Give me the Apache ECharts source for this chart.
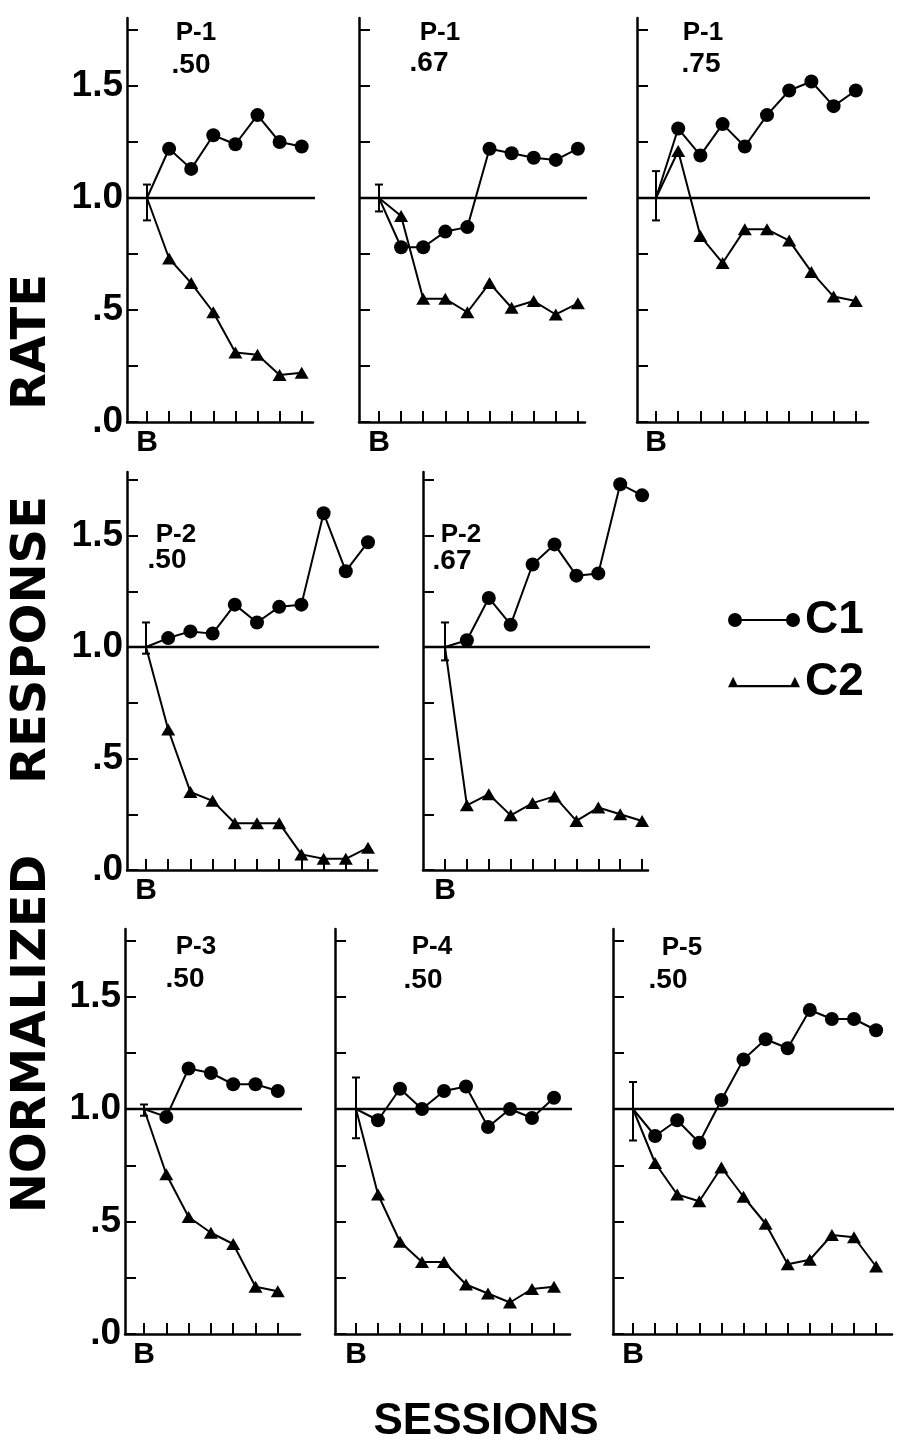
<!DOCTYPE html>
<html><head><meta charset="utf-8">
<script src="https://cdn.jsdelivr.net/npm/echarts@6/dist/echarts.min.js"></script>
<style>html,body{margin:0;padding:0;background:#fff}#c{width:906px;height:1451px}</style>
</head><body><div id="c"></div>
<script>
// ---------------- DATA ----------------
const seriesNames = ['C1', 'C2'];
const panelSubjects = ['P-1', 'P-1', 'P-1', 'P-2', 'P-2', 'P-3', 'P-4', 'P-5'];
const panelProbs = ['.50', '.67', '.75', '.50', '.67', '.50', '.50', '.50'];

const c1_p1_50 = [1.0, 1.22, 1.13, 1.28, 1.24, 1.37, 1.25, 1.23];
const c2_p1_50 = [1.0, 0.73, 0.62, 0.49, 0.31, 0.30, 0.21, 0.22];
const err_p1_50 = [0.90, 1.06];

const c1_p1_67 = [1.0, 0.78, 0.78, 0.85, 0.87, 1.22, 1.20, 1.18, 1.17, 1.22];
const c2_p1_67 = [1.0, 0.92, 0.55, 0.55, 0.49, 0.62, 0.51, 0.54, 0.48, 0.53];
const err_p1_67 = [0.94, 1.06];

const c1_p1_75 = [1.0, 1.31, 1.19, 1.33, 1.23, 1.37, 1.48, 1.52, 1.41, 1.48];
const c2_p1_75 = [1.0, 1.21, 0.83, 0.71, 0.86, 0.86, 0.81, 0.67, 0.56, 0.54];
const err_p1_75 = [0.90, 1.12];

const c1_p2_50 = [1.0, 1.04, 1.07, 1.06, 1.19, 1.11, 1.18, 1.19, 1.60, 1.34, 1.47];
const c2_p2_50 = [1.0, 0.63, 0.35, 0.31, 0.21, 0.21, 0.21, 0.07, 0.05, 0.05, 0.10];
const err_p2_50 = [0.97, 1.11];

const c1_p2_67 = [1.0, 1.03, 1.22, 1.10, 1.37, 1.46, 1.32, 1.33, 1.73, 1.68];
const c2_p2_67 = [1.0, 0.29, 0.34, 0.245, 0.30, 0.33, 0.22, 0.28, 0.25, 0.22];
const err_p2_67 = [0.94, 1.11];

const c1_p3_50 = [1.0, 0.965, 1.18, 1.16, 1.11, 1.11, 1.08];
const c2_p3_50 = [1.0, 0.71, 0.52, 0.45, 0.40, 0.21, 0.19];
const err_p3_50 = [0.97, 1.02];

const c1_p4_50 = [1.0, 0.95, 1.09, 1.00, 1.08, 1.10, 0.92, 1.00, 0.96, 1.05];
const c2_p4_50 = [1.0, 0.62, 0.41, 0.32, 0.32, 0.22, 0.18, 0.14, 0.20, 0.21];
const err_p4_50 = [0.87, 1.14];

const c1_p5_50 = [1.0, 0.88, 0.95, 0.85, 1.04, 1.22, 1.31, 1.27, 1.44, 1.40, 1.40, 1.35];
const c2_p5_50 = [1.0, 0.76, 0.62, 0.59, 0.74, 0.61, 0.49, 0.31, 0.33, 0.44, 0.43, 0.30];
const err_p5_50 = [0.86, 1.12];

const baselineValue = 1.0;
const yTickValues = [0, 0.25, 0.5, 0.75, 1.0, 1.25, 1.5, 1.75];
const yLabelValues = [0, 0.5, 1.0, 1.5];
const yLabelText = ['.0', '.5', '1.0', '1.5'];
const xFirstLabel = 'B';
const xAxisTitle = 'SESSIONS';
const yAxisTitleWords = ['NORMALIZED', 'RESPONSE', 'RATE'];

const c1All = [c1_p1_50, c1_p1_67, c1_p1_75, c1_p2_50, c1_p2_67, c1_p3_50, c1_p4_50, c1_p5_50];
const c2All = [c2_p1_50, c2_p1_67, c2_p1_75, c2_p2_50, c2_p2_67, c2_p3_50, c2_p4_50, c2_p5_50];
const errAll = [err_p1_50, err_p1_67, err_p1_75, err_p2_50, err_p2_67, err_p3_50, err_p4_50, err_p5_50];

// ---------------- LAYOUT (pixels) ----------------
const rows = [
  { top: 18, bottom: 422, pxPerUnit: 224 },
  { top: 472, bottom: 870, pxPerUnit: 223 },
  { top: 929, bottom: 1334, pxPerUnit: 225 }
];
const panels = [
  { row: 0, left: 127, right: 313, bx: 147, dx: 22.1, lineEnd: 318, labels: true,  t1: [196, 33], t2: [191, 65] },
  { row: 0, left: 359, right: 585, bx: 379, dx: 22.1, lineEnd: 597, labels: false, t1: [440, 33], t2: [429, 63] },
  { row: 0, left: 637, right: 868, bx: 656, dx: 22.2, lineEnd: 883, labels: false, t1: [703, 33], t2: [701, 64] },
  { row: 1, left: 127, right: 377, bx: 146, dx: 22.2, lineEnd: 387, labels: true,  t1: [176, 535], t2: [167, 560] },
  { row: 1, left: 423, right: 648, bx: 445, dx: 21.9, lineEnd: 692, labels: false, t1: [461, 535], t2: [452, 561] },
  { row: 2, left: 125, right: 300, bx: 144, dx: 22.3, lineEnd: 302, labels: true,  t1: [196, 947], t2: [185, 979] },
  { row: 2, left: 335, right: 570, bx: 356, dx: 22.0, lineEnd: 575, labels: false, t1: [432, 947], t2: [423, 980] },
  { row: 2, left: 613, right: 892, bx: 633, dx: 22.1, lineEnd: 906, labels: false, t1: [682, 948], t2: [668, 980] }
];

const FONT = '"Liberation Sans", Arial, sans-serif';
const HEAVY = '"DejaVu Sans", "Liberation Sans", sans-serif';
const BLACK = '#000';

const grids = [], xAxes = [], yAxes = [], series = [], graphics = [];

panels.forEach((p, i) => {
  const r = rows[p.row];
  const n = c1All[i].length;
  const xmin = (p.left - p.bx) / p.dx;
  const xmax = (p.right - p.bx) / p.dx;
  const ymax = (r.bottom - r.top) / r.pxPerUnit;
  grids.push({ left: p.left, top: r.top, width: p.right - p.left, height: r.bottom - r.top });
  const ticks = c1All[i].map((_, k) => k);
  xAxes.push({
    type: 'value', gridIndex: i, min: xmin, max: xmax,
    axisLine: { show: true, onZero: false, lineStyle: { color: BLACK, width: 2.5 } },
    axisTick: { show: true, inside: true, length: 11, customValues: ticks, lineStyle: { color: BLACK, width: 2 } },
    axisLabel: { show: true, customValues: [0], formatter: () => xFirstLabel, color: BLACK,
      fontSize: 30, fontWeight: 'bold', fontFamily: FONT, margin: 6 },
    splitLine: { show: false }
  });
  yAxes.push({
    type: 'value', gridIndex: i, min: 0, max: ymax,
    axisLine: { show: true, onZero: false, lineStyle: { color: BLACK, width: 2.5 } },
    axisTick: { show: true, inside: true, length: 11, customValues: yTickValues, lineStyle: { color: BLACK, width: 2 } },
    axisLabel: { show: p.labels, customValues: yLabelValues,
      formatter: v => yLabelText[yLabelValues.indexOf(v)] || '',
      color: BLACK, fontSize: 37, fontWeight: 'bold', fontFamily: FONT, margin: 4 },
    splitLine: { show: false }
  });
  // baseline at 1.0
  series.push({
    type: 'line', xAxisIndex: i, yAxisIndex: i, silent: true, clip: false, symbol: 'none',
    lineStyle: { color: BLACK, width: 2.5 },
    data: [[xmin, baselineValue], [(p.lineEnd - p.bx) / p.dx, baselineValue]],
    animation: false, z: 1
  });
  // C1
  series.push({
    name: seriesNames[0], type: 'line', xAxisIndex: i, yAxisIndex: i,
    symbol: 'circle', symbolSize: 14, clip: false,
    lineStyle: { color: BLACK, width: 2 }, itemStyle: { color: BLACK },
    data: c1All[i].map((v, k) => k === 0 ? { value: [k, v], symbol: 'none' } : [k, v]),
    animation: false, z: 3
  });
  // C2
  series.push({
    name: seriesNames[1], type: 'line', xAxisIndex: i, yAxisIndex: i,
    symbol: 'triangle', symbolSize: [14, 12], clip: false,
    lineStyle: { color: BLACK, width: 2 }, itemStyle: { color: BLACK },
    data: c2All[i].map((v, k) => k === 0 ? { value: [k, v], symbol: 'none' } : [k, v]),
    animation: false, z: 3
  });
  // error bar at B
  series.push({
    type: 'custom', xAxisIndex: i, yAxisIndex: i, silent: true, animation: false, z: 4,
    data: [[0, errAll[i][0], errAll[i][1]]],
    renderItem: (params, api) => {
      const lo = api.coord([api.value(0), api.value(1)]);
      const hi = api.coord([api.value(0), api.value(2)]);
      const c = 4;
      const st = { stroke: BLACK, lineWidth: 2 };
      return { type: 'group', children: [
        { type: 'line', shape: { x1: lo[0], y1: lo[1], x2: hi[0], y2: hi[1] }, style: st },
        { type: 'line', shape: { x1: lo[0] - c, y1: lo[1], x2: lo[0] + c, y2: lo[1] }, style: st },
        { type: 'line', shape: { x1: hi[0] - c, y1: hi[1], x2: hi[0] + c, y2: hi[1] }, style: st }
      ] };
    }
  });
  graphics.push({ type: 'text', x: p.t1[0], y: p.t1[1], style: { text: panelSubjects[i], fill: BLACK,
    font: 'bold 26px ' + FONT, textAlign: 'center', textVerticalAlign: 'middle' } });
  graphics.push({ type: 'text', x: p.t2[0], y: p.t2[1], style: { text: panelProbs[i], fill: BLACK,
    font: 'bold 28px ' + FONT, textAlign: 'center', textVerticalAlign: 'middle' } });
});

// axis titles
const yTitleCenters = [1034, 640, 342];
yAxisTitleWords.forEach((w, k) => {
  graphics.push({ type: 'text', x: 33, y: yTitleCenters[k], rotation: Math.PI / 2,
    style: { text: w, fill: BLACK, font: 'bold 48px ' + HEAVY, textAlign: 'center', textVerticalAlign: 'middle' } });
});
graphics.push({ type: 'text', x: 486, y: 1422, style: { text: xAxisTitle, fill: BLACK,
  font: 'bold 44px ' + FONT, textAlign: 'center', textVerticalAlign: 'middle' } });

const iconC1 = 'path://M0,7A7,7 0 1,1 14,7A7,7 0 1,1 0,7Z M7,6L65,6L65,8L7,8Z M58,7A7,7 0 1,1 72,7A7,7 0 1,1 58,7Z';
const iconC2 = 'path://M1,14L6,4L11,14Z M6,12L66,12L66,14L6,14Z M61,14L66,4L71,14Z';

const option = {
  backgroundColor: '#fff',
  animation: false,
  grid: grids, xAxis: xAxes, yAxis: yAxes, series: series,
  legend: {
    orient: 'vertical', left: 723, top: 592, itemWidth: 72, itemHeight: 14, itemGap: 16,
    selectedMode: false,
    textStyle: { color: BLACK, fontSize: 46, fontWeight: 'bold', fontFamily: FONT },
    data: [{ name: seriesNames[0], icon: iconC1 }, { name: seriesNames[1], icon: iconC2 }]
  },
  graphic: graphics
};
const chart = echarts.init(document.getElementById('c'), null, { renderer: 'canvas' });
chart.setOption(option);
</script></body></html>
